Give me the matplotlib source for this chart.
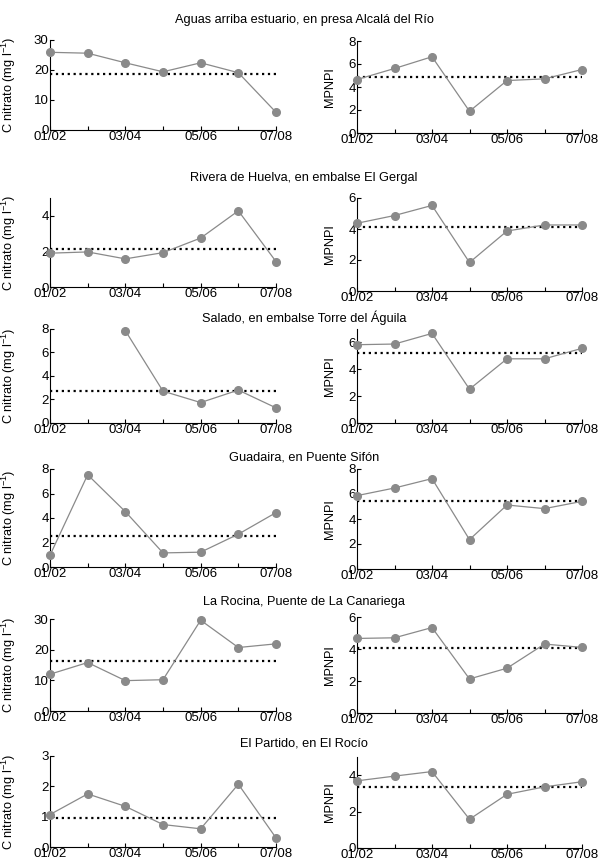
import matplotlib
matplotlib.use("Agg")
import matplotlib.pyplot as plt
import numpy as np

plt.rcParams['font.family'] = ['Liberation Sans', 'DejaVu Sans']
plt.rcParams['mathtext.fontset'] = 'custom'
plt.rcParams['mathtext.rm'] = 'Liberation Sans'
plt.rcParams['mathtext.it'] = 'Liberation Sans:italic'
plt.rcParams['mathtext.default'] = 'regular'

# datos
fechas = ["01/02", "", "03/04", "", "05/06", "", "07/08"]
titulos = ["Aguas arriba estuario, en presa Alcalá del Río",
           "Rivera de Huelva, en embalse El Gergal",
           "Salado, en embalse Torre del Águila",
           "Guadaira, en Puente Sifón",
           "La Rocina, Puente de La Canariega",
           "El Partido, en El Rocío"]

nitrato_alcala = [25.9, 25.6, 22.4, 19.4, 22.4, 19.1, 5.9]
nitrato_gergal = [1.90, 1.97, 1.58, 1.93, 2.75, 4.28, 1.43]
nitrato_salado = [np.nan, np.nan, 7.86, 2.71, 1.74, 2.80, 1.29]
nitrato_guadaira = [0.96, 7.53, 4.52, 1.15, 1.21, 2.68, 4.44]
nitrato_rocina = [12.0, 15.8, 9.9, 10.2, 29.6, 20.7, 21.9]
nitrato_partido = [1.07, 1.75, 1.34, 0.74, 0.60, 2.07, 0.30]
nitrato_media = [18.7, 2.16, 2.71, 2.52, 16.3, 0.95]

mpnpi_alcala = [4.65, 5.61, 6.63, 1.89, 4.56, 4.71, 5.52]
mpnpi_gergal = [4.37, 4.87, 5.52, 1.84, 3.87, 4.26, 4.26]
mpnpi_salado = [5.83, 5.88, 6.67, 2.52, 4.78, 4.78, 5.56]
mpnpi_guadaira = [5.87, 6.48, 7.23, 2.35, 5.12, 4.83, 5.41]
mpnpi_rocina = [4.66, 4.70, 5.34, 2.13, 2.80, 4.31, 4.10]
mpnpi_partido = [3.69, 3.95, 4.20, 1.58, 2.95, 3.36, 3.64]
mpnpi_media = [4.83, 4.16, 5.2, 5.41, 4.04, 3.36]

nitrato = [nitrato_alcala, nitrato_gergal, nitrato_salado,
           nitrato_guadaira, nitrato_rocina, nitrato_partido]
mpnpi = [mpnpi_alcala, mpnpi_gergal, mpnpi_salado,
         mpnpi_guadaira, mpnpi_rocina, mpnpi_partido]

# escalas (max, paso)
ylim_nit = [(30, 10), (5, 2), (8, 2), (8, 2), (30, 10), (3, 1)]
ylim_mp = [(8, 2), (6, 2), (7, 2), (8, 2), (6, 2), (5, 2)]

# posiciones en pixeles (arriba, abajo)
W, H = 606, 865
filas_izq = [(40, 130), (198, 287), (329, 423), (469, 567), (619, 711), (756, 847)]
filas_der = [(41, 133), (198, 291), (329, 423), (469, 569), (617, 713), (757, 848)]
y_titulo = [20, 178, 318, 457, 602, 743]

fig = plt.figure(figsize=(W / 100, H / 100), dpi=100)
gris = '#8a8a8a'
x = np.arange(1, 8)


def panel(rect, datos, media, lim, ylabel, lx):
    ax = fig.add_axes(rect)
    ax.plot(x, datos, '-', color=gris, lw=0.9, marker='o', ms=5.5,
            mfc=gris, mec=gris, clip_on=False, zorder=3)
    ax.plot([1, 7], [media, media], ':', color='black', lw=1.6, zorder=2)
    ax.set_xlim(1, 7)
    ax.set_ylim(0, lim[0])
    ax.set_yticks(np.arange(0, lim[0] + 0.01, lim[1]))
    ax.set_xticks(x)
    ax.set_xticklabels(fechas)
    for s in ['top', 'right']:
        ax.spines[s].set_visible(False)
    for s in ['left', 'bottom']:
        ax.spines[s].set_linewidth(0.8)
    ax.tick_params(direction='in', length=3, width=0.8, labelsize=9.5, pad=1)
    ax.set_ylabel(ylabel, fontsize=9.2, labelpad=2)
    ax.yaxis.set_label_coords(lx, 0.5)
    return ax


for i in range(6):
    t, b = filas_izq[i]
    panel([50 / W, 1 - b / H, 226 / W, (b - t) / H], nitrato[i], nitrato_media[i],
          ylim_nit[i], r'C nitrato (mg l$^{-1}$)', -0.14)
    t, b = filas_der[i]
    panel([357 / W, 1 - b / H, 225 / W, (b - t) / H], mpnpi[i], mpnpi_media[i],
          ylim_mp[i], 'MPNPI', -0.093)
    fig.text(304 / W, 1 - y_titulo[i] / H, titulos[i], ha='center', va='center', fontsize=9.2)

fig.savefig('out.png', dpi=100)
